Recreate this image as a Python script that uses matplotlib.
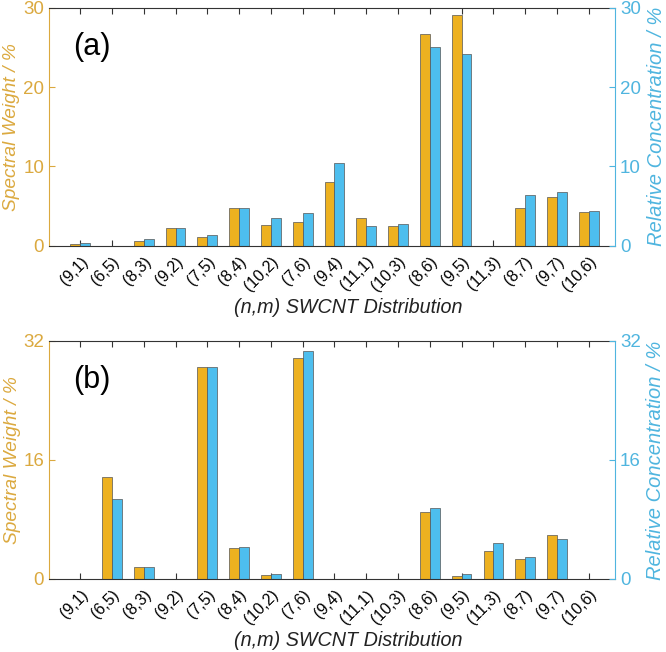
import matplotlib
matplotlib.use("Agg")
import matplotlib.pyplot as plt
import numpy as np

plt.rcParams['font.family'] = ['Liberation Sans', 'DejaVu Sans']

chiralities = ['(9,1)', '(6,5)', '(8,3)', '(9,2)', '(7,5)', '(8,4)', '(10,2)', '(7,6)', '(9,4)',
               '(11,1)', '(10,3)', '(8,6)', '(9,5)', '(11,3)', '(8,7)', '(9,7)', '(10,6)']

# panel (a)
weight_a = [0.2, 0.0, 0.6, 2.2, 1.1, 4.8, 2.65, 3.05, 8.1, 3.5, 2.5, 26.7, 29.1, 0.0, 4.8, 6.2, 4.25]
conc_a = [0.4, 0.0, 0.9, 2.3, 1.35, 4.8, 3.5, 4.1, 10.4, 2.5, 2.8, 25.0, 24.2, 0.0, 6.4, 6.8, 4.4]

# panel (b)
weight_b = [0.0, 13.7, 1.55, 0.0, 28.5, 4.2, 0.5, 29.7, 0.0, 0.0, 0.0, 9.0, 0.45, 3.7, 2.7, 5.9, 0.0]
conc_b = [0.0, 10.7, 1.65, 0.0, 28.5, 4.25, 0.72, 30.7, 0.0, 0.0, 0.0, 9.55, 0.65, 4.8, 3.0, 5.4, 0.0]

orange = '#EDB120'
blue = '#4DBEEE'
orange_txt = '#DBA93F'
blue_txt = '#4FB5DF'
dark = '#333333'

fig = plt.figure(figsize=(6.66, 6.52), dpi=100)

panels = [
    (weight_a, conc_a, 30, [0, 10, 20, 30], '(a)', [0.0736, 0.623, 0.850, 0.365]),
    (weight_b, conc_b, 32, [0, 16, 32], '(b)', [0.0736, 0.112, 0.850, 0.365]),
]

x = np.arange(len(chiralities))
w = 0.31

for sw, rc, ymax, yt, tag, rect in panels:
    ax = fig.add_axes(rect)
    ax.bar(x - w / 2, sw, width=w, color=orange, edgecolor='#555555', linewidth=0.5, zorder=2)
    ax.bar(x + w / 2, rc, width=w, color=blue, edgecolor='#555555', linewidth=0.5, zorder=2)
    ax.set_xlim(-0.98, 16.83)
    ax.set_ylim(0, ymax)
    ax.set_yticks(yt)
    ax.set_xticks(x)
    ax.set_xticklabels(chiralities, rotation=45, ha='right', rotation_mode='anchor', fontsize=11.5)
    ax.tick_params(axis='x', direction='in', top=True, length=4, color=dark, pad=6)
    ax.tick_params(axis='y', direction='in', length=4, colors=orange_txt, labelsize=13.5)
    ax.spines['left'].set_color(orange_txt)
    ax.spines['right'].set_visible(False)
    ax.spines['bottom'].set_color(dark)
    ax.spines['top'].set_color(dark)
    ax.set_ylabel('Spectral Weight / %', color=orange_txt, style='italic', fontsize=13.8, labelpad=2)
    ax.set_xlabel('(n,m) SWCNT Distribution', style='italic', fontsize=14.2, color='#222222')
    ax.xaxis.set_label_coords(0.528, -0.218)
    ax.text(0.042, 0.836, tag, transform=ax.transAxes, fontsize=22, va='center', ha='left')

    ax2 = ax.twinx()
    ax2.set_ylim(0, ymax)
    ax2.set_yticks(yt)
    ax2.tick_params(axis='y', direction='in', length=4, colors=blue_txt, labelsize=13.5)
    for s in ['left', 'top', 'bottom']:
        ax2.spines[s].set_visible(False)
    ax2.spines['right'].set_color(blue_txt)
    ax2.set_ylabel('Relative Concentration / %', color=blue_txt, style='italic', fontsize=14.5, labelpad=4)

fig.savefig('out.png', dpi=100)
